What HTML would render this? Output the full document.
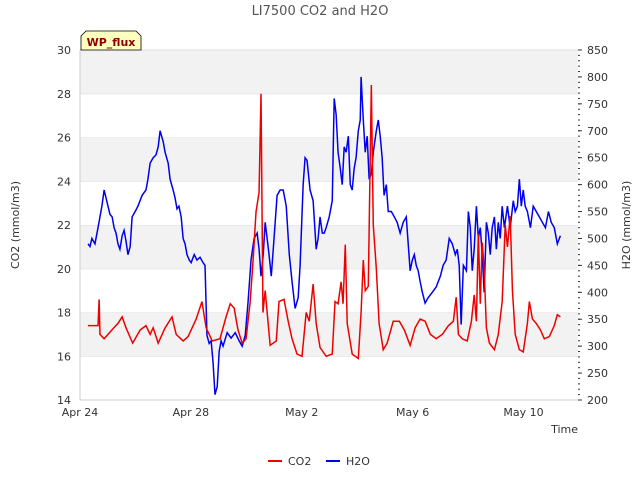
<!DOCTYPE html>
<html><head><meta charset="utf-8"><style>
body{margin:0;background:#fff;font-family:"Liberation Sans","DejaVu Sans",sans-serif}
svg text{font-family:"DejaVu Sans","Liberation Sans",sans-serif}
</style></head><body>
<svg id="chart" width="640" height="480" xmlns="http://www.w3.org/2000/svg">
<text x="320" y="15" font-size="13" fill="#555" text-anchor="middle">LI7500 CO2 and H2O</text>
<g id="bands"></g>
<g id="axes"></g>
<g id="series"></g>
<g>
<path d="M81,50 L81,36 L86,31 L136,31 L141,36 L141,50 Z" fill="#ffffc0" stroke="#000" stroke-width="0.8"/>
<text x="111" y="46" font-size="11" font-weight="bold" fill="#8b0000" text-anchor="middle">WP_flux</text>
</g>
<text x="19" y="225" font-size="11" fill="#333" text-anchor="middle" transform="rotate(-90 19 225)">CO2 (mmol/m3)</text>
<text x="630" y="225" font-size="11" fill="#333" text-anchor="middle" transform="rotate(-90 630 225)">H2O (mmol/m3)</text>
<text x="578" y="433" font-size="11" fill="#333" text-anchor="end">Time</text>
<g>
<g><line x1="268" y1="461" x2="282" y2="461" stroke="#e00" stroke-width="2"/><text x="288" y="465" font-size="11" fill="#333">CO2</text></g>
<g><line x1="326" y1="461" x2="340" y2="461" stroke="#00e" stroke-width="2"/><text x="346" y="465" font-size="11" fill="#333">H2O</text></g>
</g>
</svg>
<script>
const xTickLabels=["Apr 24","Apr 28","May 2","May 6","May 10"];
const xTickDays=[0,4,8,12,16];
const co2Ticks=[14,16,18,20,22,24,26,28,30];
const h2oTicks=[200,250,300,350,400,450,500,550,600,650,700,750,800,850];
const co2T=[0.29,0.65,0.69,0.72,0.87,1.15,1.37,1.52,1.66,1.9,2.17,2.38,2.53,2.64,2.82,3.07,3.32,3.47,3.72,3.9,4.19,4.4,4.55,4.77,5.05,5.27,5.42,5.56,5.7,5.85,5.99,6.14,6.25,6.35,6.46,6.53,6.6,6.68,6.86,7.08,7.18,7.36,7.51,7.65,7.83,8.01,8.16,8.27,8.41,8.52,8.66,8.88,9.1,9.2,9.31,9.42,9.49,9.57,9.64,9.82,10.04,10.14,10.22,10.29,10.4,10.51,10.58,10.69,10.79,10.94,11.08,11.3,11.52,11.7,11.91,12.09,12.27,12.45,12.64,12.85,13.07,13.29,13.47,13.57,13.65,13.79,13.97,14.12,14.22,14.3,14.37,14.44,14.51,14.58,14.66,14.77,14.95,15.09,15.23,15.34,15.42,15.52,15.6,15.7,15.85,15.99,16.14,16.21,16.32,16.46,16.61,16.75,16.93,17.11,17.22,17.33];
const co2V=[17.4,17.4,18.6,17.0,16.8,17.2,17.5,17.8,17.3,16.6,17.2,17.4,17.0,17.3,16.6,17.3,17.8,17.0,16.7,16.9,17.7,18.5,17.3,16.7,16.8,17.8,18.4,18.2,17.2,16.6,16.8,18.5,20.5,22.6,23.5,28.0,18.0,19.0,16.5,16.7,18.5,18.6,17.6,16.8,16.1,16.0,18.0,17.6,19.3,17.5,16.4,16.0,16.1,18.5,18.4,19.4,18.4,21.1,17.5,16.1,15.9,18.0,20.4,19.0,19.2,28.4,22.0,20.0,17.5,16.3,16.6,17.6,17.6,17.2,16.5,17.3,17.7,17.6,17.0,16.8,17.0,17.4,17.6,18.7,17.0,16.8,16.7,17.6,18.8,17.6,21.6,18.4,21.2,20.0,17.3,16.6,16.3,17.0,18.5,22.0,21.0,22.4,19.0,17.0,16.3,16.2,17.5,18.5,17.7,17.5,17.2,16.8,16.9,17.4,17.9,17.8];
const h2oT=[0.29,0.36,0.43,0.54,0.65,0.72,0.79,0.87,0.94,1.01,1.08,1.16,1.23,1.30,1.37,1.44,1.52,1.59,1.66,1.73,1.81,1.88,1.99,2.09,2.24,2.38,2.45,2.53,2.64,2.74,2.82,2.89,3.00,3.07,3.18,3.25,3.36,3.43,3.50,3.57,3.65,3.72,3.79,3.86,3.94,4.01,4.12,4.22,4.33,4.44,4.51,4.58,4.66,4.73,4.80,4.87,4.95,5.02,5.09,5.16,5.31,5.45,5.60,5.74,5.85,5.96,6.06,6.17,6.28,6.39,6.46,6.53,6.61,6.68,6.75,6.82,6.90,7.00,7.11,7.22,7.33,7.44,7.55,7.65,7.76,7.87,7.94,8.05,8.12,8.19,8.30,8.41,8.52,8.59,8.66,8.74,8.81,8.88,8.99,9.10,9.17,9.24,9.31,9.39,9.46,9.53,9.60,9.68,9.75,9.82,9.89,9.96,10.04,10.11,10.14,10.22,10.29,10.36,10.43,10.51,10.58,10.69,10.76,10.83,10.90,10.97,11.05,11.12,11.23,11.34,11.44,11.55,11.66,11.77,11.84,11.91,11.99,12.06,12.13,12.20,12.27,12.35,12.45,12.56,12.71,12.85,13.00,13.10,13.21,13.32,13.43,13.54,13.61,13.68,13.75,13.83,13.94,14.01,14.08,14.15,14.22,14.30,14.37,14.44,14.51,14.58,14.66,14.73,14.80,14.87,14.95,15.02,15.09,15.16,15.23,15.31,15.42,15.52,15.63,15.70,15.78,15.85,15.92,15.99,16.06,16.14,16.25,16.35,16.46,16.57,16.68,16.79,16.90,17.00,17.11,17.22,17.33];
const h2oV=[490,485,500,490,520,540,560,590,575,560,545,540,520,510,490,480,505,515,495,470,485,540,550,560,580,590,610,640,650,655,670,700,680,660,640,610,590,575,555,560,540,500,490,470,460,455,470,460,465,455,450,320,305,310,270,210,225,290,310,300,325,315,325,310,300,320,380,460,500,510,480,430,470,530,500,470,430,500,580,590,590,560,470,420,370,390,450,600,650,645,590,570,480,500,540,510,510,520,540,570,760,730,660,630,600,670,660,690,600,590,630,650,700,720,800,720,660,690,610,620,660,700,720,690,650,580,600,550,550,540,530,510,530,540,490,440,460,470,450,440,420,400,380,390,400,410,430,450,460,500,490,470,480,450,340,450,440,550,520,440,480,560,500,520,470,400,530,510,470,520,540,480,530,500,560,520,560,520,570,550,560,610,560,590,560,550,520,560,550,540,530,520,550,530,520,490,505];

const L=80,R=578,T=50,B=400;
const xS=d=>L+d*27.72;
const yC=v=>B-(v-14)/16*(B-T);
const yH=v=>B-(v-200)/650*(B-T);
const NS='http://www.w3.org/2000/svg';
function mk(tag,attrs,parent){const e=document.createElementNS(NS,tag);for(const k in attrs)e.setAttribute(k,attrs[k]);parent.appendChild(e);return e;}
const bands=document.getElementById('bands'),axes=document.getElementById('axes'),series=document.getElementById('series');
for(let i=0;i<co2Ticks.length-1;i++){
  const lo=co2Ticks[i],hi=co2Ticks[i+1];
  const r=mk('rect',{x:L,y:yC(hi),width:R-L,height:yC(lo)-yC(hi),fill:(i%2===1)?'#f2f2f2':'#ffffff'},bands);
  
  
  const g=mk('line',{x1:L,x2:R,y1:yC(hi),y2:yC(hi),stroke:'#ddd','stroke-width':1},bands);
  
  
}
mk('line',{x1:L,x2:L,y1:T,y2:B,stroke:'#ccc'},axes);
mk('line',{x1:L,x2:R,y1:B,y2:B,stroke:'#ccc'},axes);
co2Ticks.forEach(v=>{const t=mk('text',{x:L-9,y:yC(v)+4,'font-size':11,fill:'#333','text-anchor':'end'},axes);t.textContent=v;
  
  });
h2oTicks.forEach(v=>{const t=mk('text',{x:R+9,y:yH(v)+4,'font-size':11,fill:'#333'},axes);t.textContent=v;
  
  
  mk('line',{x1:R,x2:R+4,y1:yH(v),y2:yH(v),stroke:'#333'},axes);});
for(let v=200;v<=850;v+=10){mk('line',{x1:R,x2:R+2,y1:yH(v),y2:yH(v),stroke:'#333'},axes);}
xTickDays.forEach((d,i)=>{const t=mk('text',{x:xS(d),y:B+16,'font-size':11,fill:'#333','text-anchor':'middle'},axes);t.textContent=xTickLabels[i];
  
  });
const h=mk('polyline',{points:h2oT.map((d,i)=>xS(d)+','+yH(h2oV[i])).join(' '),fill:'none',stroke:'#0000ee','stroke-width':1.5},series);


const c=mk('polyline',{points:co2T.map((d,i)=>xS(d)+','+yC(co2V[i])).join(' '),fill:'none',stroke:'#ee0000','stroke-width':1.5},series);


</script>
</body></html>
